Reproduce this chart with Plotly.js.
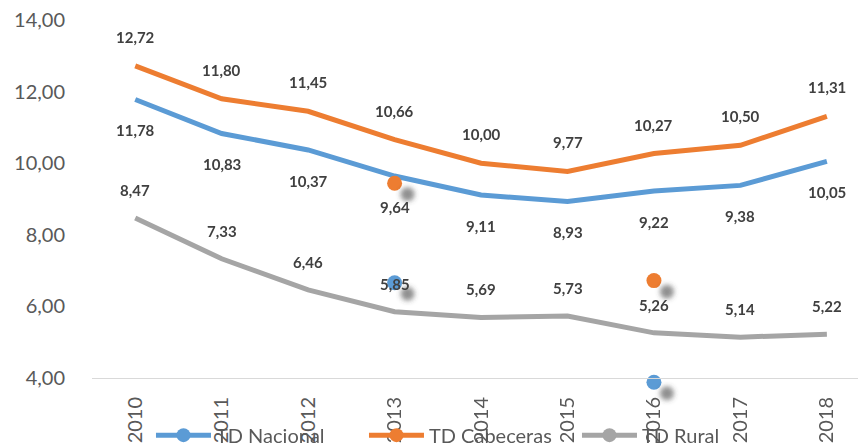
<!DOCTYPE html>
<html><head><meta charset="utf-8">
<script src="https://cdn.plot.ly/plotly-3.0.1.min.js"></script>
<style>html,body{margin:0;padding:0;background:#fff}#chart{width:858px;height:446px}</style>
</head><body><div id="chart"></div>
<svg width="0" height="0" style="position:absolute"><defs><filter id="shadowBlur" x="-1" y="-1" width="3" height="3"><feGaussianBlur stdDeviation="2.6"/></filter></defs></svg>
<script>
const years = [2010, 2011, 2012, 2013, 2014, 2015, 2016, 2017, 2018];
const yearLabels = ['2010','2011','2012','2013','2014','2015','2016','2017','2018'];
const tdNacional = [11.78, 10.83, 10.37, 9.64, 9.11, 8.93, 9.22, 9.38, 10.05];
const tdCabeceras = [12.72, 11.80, 11.45, 10.66, 10.00, 9.77, 10.27, 10.50, 11.31];
const tdRural = [8.47, 7.33, 6.46, 5.85, 5.69, 5.73, 5.26, 5.14, 5.22];
const seriesNames = ['TD Nacional', 'TD Cabeceras', 'TD Rural'];
// stray markers visible in the picture
const strayNacionalX = [2013, 2016];
const strayNacionalY = [6.66, 3.88];
const strayCabecerasX = [2013, 2016];
const strayCabecerasY = [9.44, 6.72];

const colors = ['#5B9BD5', '#ED7D31', '#A5A5A5'];
const allSeries = [tdNacional, tdCabeceras, tdRural];
const labelShift = [-31, 29, 28];

const traces = [];
allSeries.forEach((s, i) => {
  traces.push({x: years, y: s, type: 'scatter', mode: 'lines', showlegend: false,
    line: {color: colors[i], width: 5}, hoverinfo: 'skip'});
});
// shadows
[[strayNacionalX, strayNacionalY], [strayCabecerasX, strayCabecerasY]].forEach(([sx, sy]) => {
  traces.push({x: sx, y: sy, xaxis: 'x2', yaxis: 'y2', type: 'scatter', mode: 'markers', showlegend: false,
    cliponaxis: false, marker: {size: 14, color: 'rgba(70,70,70,0.6)', line: {width: 0}}, hoverinfo: 'skip'});
});
traces.push({x: strayNacionalX, y: strayNacionalY, type: 'scatter', mode: 'markers', showlegend: false,
  cliponaxis: false, marker: {size: 15, color: colors[0]}, hoverinfo: 'skip'});
traces.push({x: strayCabecerasX, y: strayCabecerasY, type: 'scatter', mode: 'markers', showlegend: false,
  cliponaxis: false, marker: {size: 15, color: colors[1]}, hoverinfo: 'skip'});
// legend entries
seriesNames.forEach((n, i) => {
  traces.push({x: [null], y: [null], name: n, type: 'scatter', mode: 'lines+markers',
    line: {color: colors[i], width: 5}, marker: {size: 14, color: colors[i]}});
});

const annotations = [];
allSeries.forEach((s, i) => {
  s.forEach((v, j) => {
    annotations.push({x: years[j], y: v, xref: 'x', yref: 'y', text: '<b>' + v.toFixed(2).replace('.', ',') + '</b>',
      showarrow: false, yshift: labelShift[i], yanchor: 'middle',
      font: {family: 'Lato', size: 15, color: '#404040'}});
  });
});

const layout = {
  width: 858, height: 446,
  margin: {l: 92, r: 0, t: 20, b: 43, autoexpand: false},
  paper_bgcolor: '#fff', plot_bgcolor: '#fff',
  separators: ',.',
  font: {family: 'Lato', color: '#595959', size: 20},
  xaxis: {type: 'linear', tickvals: years, ticktext: yearLabels, range: [2009.5, 2018.36], showgrid: false, zeroline: false,
    anchor: 'free', position: 0.0654,
    showline: true, linecolor: '#D9D9D9', linewidth: 1, ticks: '', tickangle: -90, ticklabelstandoff: 10,
    tickfont: {size: 20, color: '#595959'}},
  xaxis2: {type: 'linear', overlaying: 'x', range: [2009.5 - 0.15, 2018.36 - 0.15],
    visible: false, showgrid: false, zeroline: false},
  yaxis: {range: [3.3, 14], tick0: 0, dtick: 2, tickformat: '.2f', showgrid: false, zeroline: false, showline: false,
    ticks: '', ticklabelstandoff: 26, tickfont: {size: 20, color: '#595959'}},
  yaxis2: {overlaying: 'y', range: [3.3 + 0.31, 14 + 0.31], visible: false, showgrid: false, zeroline: false},
  showlegend: true,
  legend: {orientation: 'h', x: 0.077, xanchor: 'left', y: -0.084, yanchor: 'middle',
    font: {size: 20, color: '#595959'}, bgcolor: 'rgba(0,0,0,0)', itemwidth: 55, entrywidth: 143},
  annotations: annotations
};
Plotly.newPlot('chart', traces, layout, {displayModeBar: false, staticPlot: true}).then(gd => {
  document.querySelectorAll('g.trace.scatter').forEach(g => {
    const cd = g.__data__;
    if (cd && cd[0] && cd[0].trace && cd[0].trace.xaxis === 'x2') g.setAttribute('filter', 'url(#shadowBlur)');
  });
});
</script></body></html>
